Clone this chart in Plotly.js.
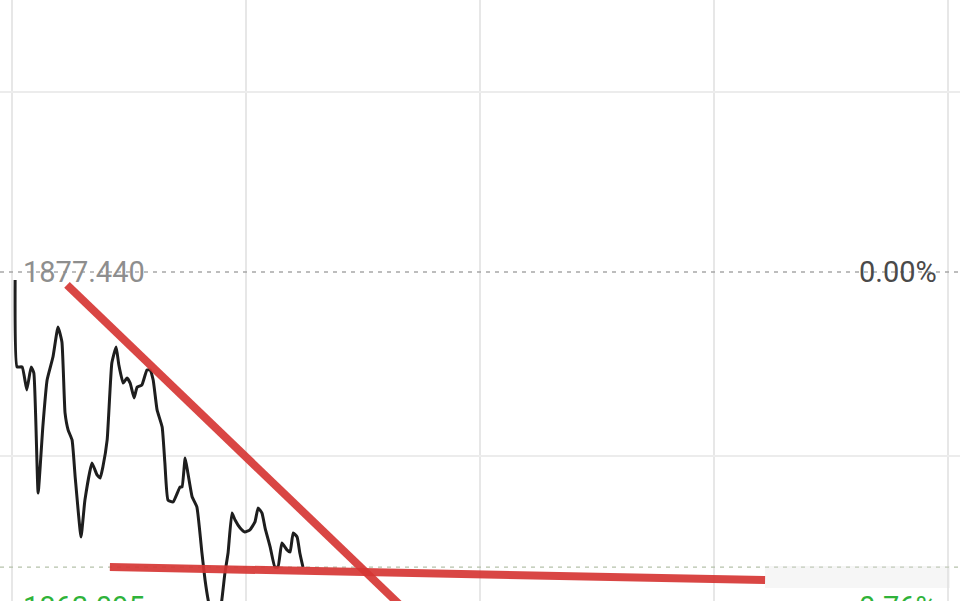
<!DOCTYPE html>
<html>
<head>
<meta charset="utf-8">
<script src="https://cdn.plot.ly/plotly-3.0.1.min.js"></script>
<style>
html,body{margin:0;padding:0;background:#fff;}
#chart{width:960px;height:601px;}
</style>
</head>
<body>
<div id="chart"></div>
<script>
// ---- data ----
const prevClose = 1877.44;
const lowLabel = 1863.095;
const prevCloseText = "1877.440";
const lowText = "1863.095";
const pctZeroText = "0.00%";
const pctLowText = "-0.76%";

// intraday minutes since open and index price
const minutes = [0.8,1.3,2.6,3.8,4.9,5.6,6.7,7.9,9.0,10.5,11.8,12.8,13.6,14.4,15.4,16.2,17.7,18.7,20.5,21.8,22.6,23.3,24.4,25.6,26.7,27.4,28.5,29.5,30.3,31.3,32.1,33.3,34.6,35.4,36.2,37.2,38.5,39.2,40.0,41.3,43.1,43.6,44.4,45.1,46.2,47.4,48.7,49.5,50.3,51.8,53.3,53.8,54.6,55.4,56.4,57.2,58.5,59.7,61.0,62.3,63.1,64.1,64.9,66.2,67.4,68.2,69.2,70.5,71.3,72.1,73.1,73.8,74.6];
const prices = [1877.10,1873.40,1873.40,1872.42,1873.40,1873.14,1868.03,1870.84,1872.84,1873.82,1875.10,1874.46,1871.44,1870.71,1870.29,1868.71,1866.16,1867.73,1869.31,1868.80,1868.67,1869.14,1870.29,1873.57,1874.25,1873.48,1872.71,1872.93,1872.71,1872.08,1872.54,1872.63,1873.27,1873.27,1872.84,1871.57,1870.84,1869.31,1867.73,1867.65,1868.29,1868.29,1869.52,1868.88,1867.86,1867.44,1865.48,1864.33,1863.48,1862.41,1863.05,1863.48,1864.63,1865.48,1867.18,1866.88,1866.54,1866.37,1866.46,1866.80,1867.39,1867.18,1866.54,1865.73,1864.88,1864.88,1865.90,1865.61,1865.52,1866.33,1866.16,1865.48,1864.88];

// hand-drawn trend lines (minute, price)
const trendDownX = [14.1, 99.5];
const trendDownY = [1876.89, 1863.26];
const supportX = [25.1, 193.1];
const supportY = [1864.88, 1864.33];
const supportRefPrice = 1864.88;

const timeGrid = [0, 60, 120, 180, 240];
const priceGrid = [1885.10, 1869.61];

// ---- chart ----
const red = 'rgba(214,54,52,0.92)';
const traces = [
  {x: [-3.077, 243.077], y: [prevClose, prevClose], mode: 'lines',
   line: {color: '#a8a8a8', width: 1.3, dash: '4px,5px'}, hoverinfo: 'skip'},
  {x: [-3.077, 243.077], y: [supportRefPrice, supportRefPrice], mode: 'lines',
   line: {color: '#b5c2aa', width: 1.3, dash: '4px,5px'}, hoverinfo: 'skip'},
  {x: minutes, y: prices, mode: 'lines', line: {color: '#1e1e1e', width: 3, shape: 'spline', smoothing: 0.4}},
  {x: trendDownX, y: trendDownY, mode: 'lines', line: {color: red, width: 8}},
  {x: supportX, y: supportY, mode: 'lines', line: {color: red, width: 8}}
];

const fontFam = 'Roboto, "Noto Sans", sans-serif';
const layout = {
  width: 960, height: 601,
  margin: {l: 0, r: 0, t: 0, b: 0},
  paper_bgcolor: '#ffffff', plot_bgcolor: '#ffffff',
  showlegend: false,
  xaxis: {range: [-3.077, 243.077], tickvals: timeGrid, showticklabels: false, ticks: '',
          showgrid: true, gridcolor: '#e7e7e7', gridwidth: 1.5, zeroline: false, showline: false, fixedrange: true},
  yaxis: {range: [1863.434, 1889.019], tickvals: priceGrid, showticklabels: false, ticks: '',
          showgrid: true, gridcolor: '#ececec', gridwidth: 1.5, zeroline: false, showline: false, fixedrange: true},
  shapes: [
    {type: 'rect', xref: 'paper', yref: 'paper', x0: 765/960, x1: 950/960, y0: (601-588)/601, y1: (601-566)/601,
     fillcolor: 'rgba(225,225,225,0.3)', line: {width: 0}, layer: 'above'}
  ],
  annotations: [
    {xref: 'paper', yref: 'y', x: 21/960, y: prevClose, xanchor: 'left', yanchor: 'middle',
     text: prevCloseText, showarrow: false, font: {family: fontFam, size: 29, color: '#8e8e8e'}},
    {xref: 'paper', yref: 'y', x: 939/960, y: prevClose, xanchor: 'right', yanchor: 'middle',
     text: pctZeroText, showarrow: false, font: {family: fontFam, size: 29, color: '#4a4a4a'}},
    {xref: 'paper', yref: 'paper', x: 21/960, y: -6/601, xanchor: 'left', yanchor: 'middle',
     text: lowText, showarrow: false, font: {family: fontFam, size: 29, color: '#2fb33a'}},
    {xref: 'paper', yref: 'paper', x: 939/960, y: -6/601, xanchor: 'right', yanchor: 'middle',
     text: pctLowText, showarrow: false, font: {family: fontFam, size: 29, color: '#2fb33a'}}
  ]
};

Plotly.newPlot('chart', traces, layout, {displayModeBar: false, staticPlot: true});
</script>
</body>
</html>
